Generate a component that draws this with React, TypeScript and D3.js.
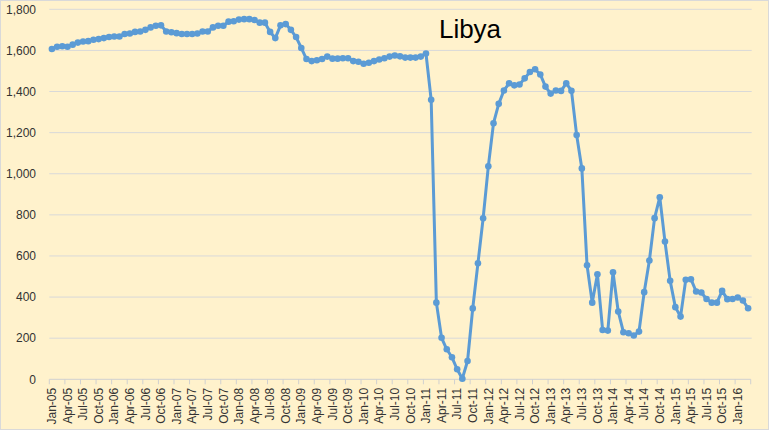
import React from "react";
import * as d3 from "d3";

const monthNames = ["Jan", "Feb", "Mar", "Apr", "May", "Jun", "Jul", "Aug", "Sep", "Oct", "Nov", "Dec"];
const years = ["05", "06", "07", "08", "09", "10", "11", "12", "13", "14", "15", "16"];
const lastYearMonths = 3;

const categories: string[] = [];
years.forEach((yy, yi) => {
  const n = yi === years.length - 1 ? lastYearMonths : 12;
  for (let m = 0; m < n; m++) categories.push(`${monthNames[m]}-${yy}`);
});

// Libya crude production (kb/d), monthly Jan-05 .. Mar-16
const production = [
  1607, 1618, 1620, 1618, 1628, 1638, 1643, 1645, 1652, 1655, 1660, 1665,
  1668, 1668, 1680, 1682, 1690, 1692, 1700, 1712, 1720, 1722, 1692, 1688,
  1684, 1680, 1680, 1680, 1682, 1692, 1692, 1712, 1720, 1720, 1740, 1742,
  1750, 1752, 1752, 1748, 1735, 1735, 1690, 1660, 1722, 1728, 1700, 1665,
  1612, 1558, 1548, 1552, 1558, 1570, 1560, 1560, 1562, 1562, 1548, 1545,
  1535, 1540, 1548, 1556, 1562, 1570, 1575, 1571, 1565, 1565, 1565, 1570,
  1585, 1360, 373, 202, 146, 107, 49, 3, 89, 345, 564, 783,
  1036, 1246, 1340, 1405, 1440, 1430, 1434, 1464, 1495, 1508, 1483, 1424,
  1390, 1405, 1403, 1440, 1404, 1188, 1026, 555, 373, 511, 240, 237,
  521, 330, 229, 224, 213, 232, 424, 578, 784, 886, 670, 479,
  351, 305, 484, 487, 427, 422, 391, 373, 373, 430, 390, 391,
  398, 383, 346,
];

const yTicks = [0, 200, 400, 600, 800, 1000, 1200, 1400, 1600, 1800];
const title = "Libya";

const W = 769;
const H = 430;
const left = 49.3;
const right = 750.7;
const top = 9.3;
const bottom = 379.3;

export default function App() {
  const x = d3.scaleBand<string>().domain(categories).range([left, right]).padding(0);
  const y = d3.scaleLinear().domain([0, 1800]).range([bottom, top]);
  const bw = x.bandwidth();
  const cx = (c: string) => (x(c) as number) + bw / 2;

  const line = d3
    .line<number>()
    .x((_, i) => cx(categories[i]))
    .y((v) => y(v));

  const fmt = d3.format(",");
  const labelIdx = categories.map((_, i) => i).filter((i) => i % 3 === 0);
  const tickPos = labelIdx.map((i) => x(categories[i]) as number).concat([right]);

  return (
    <svg
      width={W}
      height={H}
      style={{ position: "absolute", left: 0, top: 0, background: "#FFF2CC" }}
      fontFamily="'Liberation Sans', Arial, sans-serif"
    >
      <rect x={0.5} y={0.5} width={W - 1} height={H - 1} fill="#FFF2CC" stroke="#D9D9D9" />
      {yTicks.map((t) => (
        <g key={t}>
          {t > 0 && (
            <line x1={left} x2={right + 1} y1={y(t)} y2={y(t)} stroke="#D9D9D9" strokeWidth={1} />
          )}
          <text x={36} y={y(t) + 4.3} textAnchor="end" fontSize={12} fill="#333">
            {fmt(t)}
          </text>
        </g>
      ))}
      <line x1={left} x2={right} y1={bottom} y2={bottom} stroke="#D0D0D0" strokeWidth={1} />
      {tickPos.map((p, i) => (
        <line key={i} x1={p} x2={p} y1={bottom} y2={bottom + 5} stroke="#D0D0D0" strokeWidth={1} />
      ))}
      {labelIdx.map((i) => (
        <text
          key={i}
          transform={`translate(${cx(categories[i]) + 4.2},${bottom + 8.5}) rotate(-90)`}
          textAnchor="end"
          fontSize={12}
          fill="#333"
        >
          {categories[i]}
        </text>
      ))}
      <path d={line(production) as string} fill="none" stroke="#5B9BD5" strokeWidth={3} strokeLinejoin="round" />
      {production.map((v, i) => (
        <circle key={i} cx={cx(categories[i])} cy={y(v)} r={3.3} fill="#5B9BD5" />
      ))}
      <text x={470} y={38} textAnchor="middle" fontSize={26} fill="#000">
        {title}
      </text>
    </svg>
  );
}
